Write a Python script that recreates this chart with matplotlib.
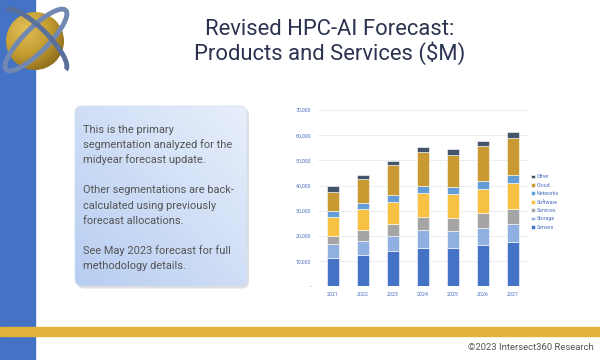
import numpy as np
import matplotlib
matplotlib.use("Agg")
import matplotlib.pyplot as plt
from matplotlib.patches import FancyBboxPatch, Rectangle, Circle, Arc
from matplotlib.colors import LinearSegmentedColormap

plt.rcParams['font.family'] = ['Roboto', 'DejaVu Sans']

years = ["2021", "2022", "2023", "2024", "2025", "2026", "2027"]
servers = [11200, 12400, 13900, 15300, 15200, 16300, 17500]
storage = [5500, 5600, 6100, 7100, 6800, 7000, 7400]
services = [3100, 4400, 4900, 5100, 5200, 5800, 5900]
software = [7600, 8200, 8700, 9400, 9400, 9500, 10100]
networks = [2400, 2300, 2800, 3000, 3000, 3300, 3400]
cloud = [7600, 9600, 11600, 13300, 12600, 13800, 14600]
other = [2300, 1700, 1900, 2100, 2200, 2100, 2300]

series_names = ["Servers", "Storage", "Services", "Software", "Networks", "Cloud", "Other"]
series_vals = [servers, storage, services, software, networks, cloud, other]
series_cols = ["#4472c4", "#8fb0e0", "#a5a5a5", "#f7c143", "#649dd6", "#c99a32", "#44546a"]
yticks = [0, 10000, 20000, 30000, 40000, 50000, 60000, 70000]
ytick_labels = ["-", "10,000", "20,000", "30,000", "40,000", "50,000", "60,000", "70,000"]

title = "Revised HPC-AI Forecast:\nProducts and Services ($M)"
note_lines = ["This is the primary", "segmentation analyzed for the", "midyear forecast update.", "",
              "Other segmentations are back-", "calculated using previously", "forecast allocations.", "",
              "See May 2023 forecast for full", "methodology details."]
copyright_text = "\u00a92023 Intersect360 Research"

W, H = 600, 360
fig = plt.figure(figsize=(6, 3.6), dpi=100)
fig.patch.set_facecolor("white")

bg = fig.add_axes([0, 0, 1, 1])
bg.set_xlim(0, W)
bg.set_ylim(H, 0)
bg.axis("off")

bg.add_patch(Rectangle((0, 0), 35, H, color="#4472c4", zorder=1))
bg.add_patch(Rectangle((0, 327), W, 9, color="#e2b33c", zorder=2))

# logo
sph = Circle((35, 41), 29, transform=bg.transData)
gx, gy = np.meshgrid(np.linspace(-1, 1, 100), np.linspace(-1, 1, 100))
d = np.sqrt((gx + 0.35) ** 2 + (gy + 0.4) ** 2)
gold = LinearSegmentedColormap.from_list("g", ["#e0bf55", "#c29a30", "#7a5c14"])
im = bg.imshow(d, cmap=gold, extent=(6, 64, 70, 12), zorder=3, vmin=0, vmax=1.8)
im.set_clip_path(sph)
bg.add_patch(Arc((36, 40), 84, 24, angle=-45, theta1=0, theta2=360,
                 color="#7088b2", lw=3.5, zorder=4))
bg.add_patch(Arc((36, 40), 84, 24, angle=45, theta1=180, theta2=360,
                 color="#5a6f9a", lw=3.5, zorder=4))

fig.text(330 / W, 1 - 42 / H, title, ha="center", va="center", fontsize=15.8,
         color="#2b3350", linespacing=1.12)

# note box
bg.add_patch(FancyBboxPatch((77, 108.5), 172, 180, boxstyle="round,pad=0,rounding_size=7",
                            fc="#b8b8b8", ec="none", alpha=0.45, zorder=2))
box = FancyBboxPatch((75, 106), 172, 180, boxstyle="round,pad=0,rounding_size=7",
                     fc="none", ec="#d0dcf0", lw=0.5, zorder=4)
bg.add_patch(box)
bx, by = np.meshgrid(np.linspace(0, 1, 100), np.linspace(0, 1, 100))
grad = (1 - bx) * 0.5 + by * 0.5
blue = LinearSegmentedColormap.from_list("b", ["#e8effb", "#b7cdf1"])
im2 = bg.imshow(grad, cmap=blue, extent=(75, 247, 286, 106), zorder=3, vmin=0, vmax=1)
im2.set_clip_path(box)
for i, line in enumerate(note_lines):
    if line:
        bg.text(83, 129.3 + 15.15 * i + 3.5, line, ha="left", va="baseline",
                fontsize=7.9, color="#555555", zorder=5)

fig.text(594 / W, 1 - 347 / H, copyright_text, ha="right", va="center",
         fontsize=6.8, color="#555555")
bg.set_xlim(0, W)
bg.set_ylim(H, 0)

# chart
ax = fig.add_axes([318 / W, 1 - 286.3 / H, 210 / W, (286.3 - 110) / H])
ax.set_facecolor("none")
x = np.arange(len(years))
bottom = np.zeros(len(years))
for name, vals, col in zip(series_names, series_vals, series_cols):
    ax.bar(x, vals, 0.4, bottom=bottom, color=col, label=name,
           edgecolor="white", linewidth=0.4, zorder=3)
    bottom += np.array(vals)
ax.set_xlim(-0.5, 6.5)
ax.set_ylim(0, 70000)
ax.set_yticks(yticks)
ax.set_yticklabels(ytick_labels)
ax.set_xticks(x)
ax.set_xticklabels(years)
ax.tick_params(axis="both", length=0, labelsize=3.8, labelcolor="#4a6cc0", pad=4)
ax.tick_params(axis="y", pad=5)
ax.grid(axis="y", color="#e6eaf2", lw=0.6, zorder=0)
for s in ax.spines.values():
    s.set_visible(False)

h, l = ax.get_legend_handles_labels()
leg = ax.legend(h[::-1], l[::-1], loc="center left", bbox_to_anchor=(1.0, 0.478),
                frameon=False, fontsize=3.8, handlelength=0.7, handleheight=0.7,
                handletextpad=0.4, labelspacing=0.65, borderaxespad=0.2)
for t in leg.get_texts():
    t.set_color("#4a6cc0")

fig.savefig("out.png", dpi=100)
